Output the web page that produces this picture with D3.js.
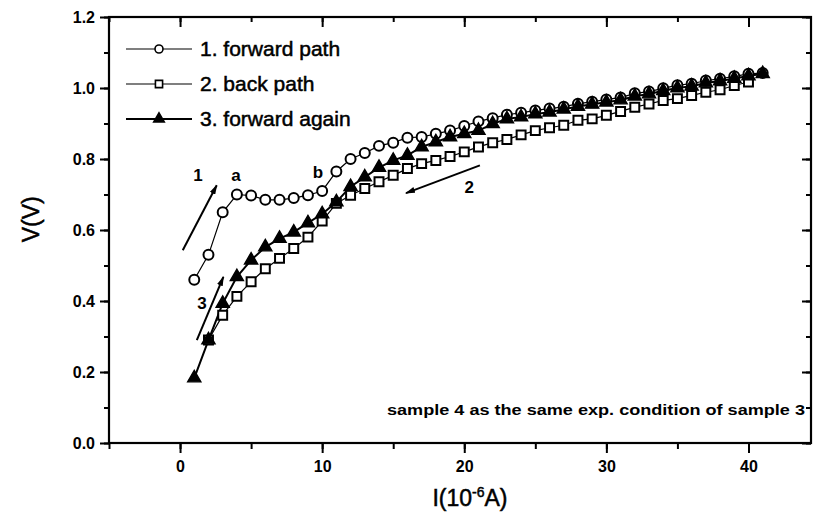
<!DOCTYPE html>
<html>
<head>
<meta charset="utf-8">
<script src="https://cdnjs.cloudflare.com/ajax/libs/d3/7.8.5/d3.min.js"></script>
<style>
  body { margin: 0; background: #fff; }
  svg { font-family: Arial, "Liberation Sans", sans-serif; }
  .tick text { font-weight: bold; font-size: 16px; }
</style>
</head>
<body>
<svg id="vis" width="813" height="521"></svg>
<script>
// data: I in 10^-6 A, V in volts
var current1 = d3.range(1, 42);
var forward1 = [0.46, 0.53, 0.65, 0.70, 0.697, 0.685, 0.685, 0.69, 0.698, 0.71,
  0.765, 0.80, 0.817, 0.837, 0.846, 0.86, 0.862, 0.871, 0.88, 0.893,
  0.906, 0.915, 0.925, 0.93, 0.937, 0.942, 0.947, 0.956, 0.961, 0.968,
  0.973, 0.985, 0.99, 0.999, 1.008, 1.012, 1.021, 1.026, 1.033, 1.04, 1.042];

var current2 = d3.range(2, 41);
var back2 = [0.29, 0.36, 0.413, 0.454, 0.491, 0.52, 0.548, 0.58, 0.625,
  0.675, 0.698, 0.717, 0.736, 0.754, 0.773, 0.787, 0.796, 0.807, 0.82,
  0.834, 0.846, 0.855, 0.868, 0.88, 0.888, 0.895, 0.909, 0.913, 0.923,
  0.934, 0.946, 0.955, 0.965, 0.97, 0.979, 0.988, 0.995, 1.007, 1.017];

var current3 = d3.range(1, 42);
var again3 = [0.183, 0.29, 0.393, 0.468, 0.515, 0.552, 0.576, 0.594, 0.62, 0.645,
  0.679, 0.722, 0.749, 0.776, 0.796, 0.81, 0.834, 0.848, 0.862, 0.871,
  0.88, 0.899, 0.913, 0.918, 0.927, 0.932, 0.94, 0.948, 0.954, 0.96,
  0.966, 0.977, 0.983, 0.992, 1.0, 1.005, 1.014, 1.02, 1.027, 1.034, 1.04];

var legendNames = ["1. forward path", "2. back path", "3. forward again"];
var xTicks = [0, 10, 20, 30, 40];
var yTicks = [0.0, 0.2, 0.4, 0.6, 0.8, 1.0, 1.2];

// annotation arrows [x1, y1, x2, y2] in data units, head at the second point
var arrows = [[0.19, 0.543, 2.58, 0.726], [1.18, 0.29, 3.05, 0.468], [21.1, 0.782, 15.9, 0.704]];
var labels = [["1", 1.27, 0.755], ["a", 3.94, 0.755], ["b", 9.7, 0.763], ["3", 1.55, 0.394], ["2", 20.35, 0.72]];

var svg = d3.select("#vis");

var x = d3.scaleLinear().domain([-5, 44.4]).range([109, 811]);
var y = d3.scaleLinear().domain([0, 1.2]).range([443, 17]);

var fmt = d3.format(".1f");

/*
 * AXES
 */
function minorTicks(sc, step) {
  var d = sc.domain(), out = [];
  for (var v = Math.ceil(d[0] / step) * step; v <= d[1] + 1e-9; v += step) out.push(+v.toFixed(3));
  return out;
}

// bottom, outside ticks
svg.append("g")
  .attr("transform", "translate(0," + y(0) + ")")
  .call(d3.axisBottom(x).tickValues(minorTicks(x, 5)).tickSize(6).tickFormat(""))
  .call(g => g.select(".domain").remove());
svg.append("g")
  .attr("transform", "translate(0," + y(0) + ")")
  .call(d3.axisBottom(x).tickValues(xTicks).tickSize(10).tickPadding(8).tickFormat(d3.format("d")))
  .call(g => g.select(".domain").remove());

// left, outside ticks
svg.append("g")
  .attr("transform", "translate(" + x(-5) + ",0)")
  .call(d3.axisLeft(y).tickValues(minorTicks(y, 0.1)).tickSize(5).tickFormat(""))
  .call(g => g.select(".domain").remove());
svg.append("g")
  .attr("transform", "translate(" + x(-5) + ",0)")
  .call(d3.axisLeft(y).tickValues(yTicks).tickSize(9).tickPadding(5).tickFormat(fmt))
  .call(g => g.select(".domain").remove());

// top and right, ticks pointing in
svg.append("g")
  .attr("transform", "translate(0," + y(1.2) + ")")
  .call(d3.axisBottom(x).tickValues(minorTicks(x, 5)).tickSize(5).tickFormat(""))
  .call(g => g.select(".domain").remove());
svg.append("g")
  .attr("transform", "translate(0," + y(1.2) + ")")
  .call(d3.axisBottom(x).tickValues(xTicks).tickSize(10).tickFormat(""))
  .call(g => g.select(".domain").remove());
svg.append("g")
  .attr("transform", "translate(" + x(44.4) + ",0)")
  .call(d3.axisLeft(y).tickValues(minorTicks(y, 0.1)).tickSize(5).tickFormat(""))
  .call(g => g.select(".domain").remove());
svg.append("g")
  .attr("transform", "translate(" + x(44.4) + ",0)")
  .call(d3.axisLeft(y).tickValues(yTicks).tickSize(9).tickFormat(""))
  .call(g => g.select(".domain").remove());

svg.selectAll(".tick line").attr("stroke", "#000").attr("stroke-width", 2);

// frame
svg.append("rect")
  .attr("x", x(-5)).attr("y", y(1.2))
  .attr("width", x(44.4) - x(-5)).attr("height", y(0) - y(1.2))
  .attr("fill", "none").attr("stroke", "#000").attr("stroke-width", 2.2);

// axis titles
svg.append("text")
  .attr("transform", "translate(31," + y(0.63) + ") rotate(-90)")
  .attr("text-anchor", "middle").attr("dy", "0.35em")
  .attr("font-size", 23).attr("stroke", "#000").attr("stroke-width", 0.5)
  .text("V(V)");

var xt = svg.append("text")
  .attr("x", x(20.4)).attr("y", 506)
  .attr("text-anchor", "middle")
  .attr("font-size", 23).attr("stroke", "#000").attr("stroke-width", 0.5);
xt.append("tspan").text("I(10");
xt.append("tspan").attr("dy", -9).attr("font-size", 14).text("-6");
xt.append("tspan").attr("dy", 9).text("A)");

/*
 * SERIES
 */
var line = d3.line().x(d => x(d[0])).y(d => y(d[1]));

var s1 = d3.zip(current1, forward1);
var s2 = d3.zip(current2, back2);
var s3 = d3.zip(current3, again3);

svg.append("path").datum(s1).attr("d", line)
  .attr("fill", "none").attr("stroke", "#000").attr("stroke-width", 1.2);
svg.append("path").datum(s2).attr("d", line)
  .attr("fill", "none").attr("stroke", "#000").attr("stroke-width", 1.2);
svg.append("path").datum(s3).attr("d", line)
  .attr("fill", "none").attr("stroke", "#000").attr("stroke-width", 2);

var circle = d3.symbol().type(d3.symbolCircle).size(78);
var square = d3.symbol().type(d3.symbolSquare).size(80);
var triangle = d3.symbol().type(d3.symbolTriangle).size(75);

svg.append("g").selectAll("path")
  .data(s1).enter().append("path")
    .attr("transform", d => "translate(" + x(d[0]) + "," + y(d[1]) + ")")
    .attr("d", circle)
    .attr("fill", "#fff").attr("stroke", "#000").attr("stroke-width", 2);

svg.append("g").selectAll("path")
  .data(s2).enter().append("path")
    .attr("transform", d => "translate(" + x(d[0]) + "," + y(d[1]) + ")")
    .attr("d", square)
    .attr("fill", "#fff").attr("stroke", "#000").attr("stroke-width", 2);

svg.append("g").selectAll("path")
  .data(s3).enter().append("path")
    .attr("transform", d => "translate(" + x(d[0]) + "," + y(d[1]) + ")")
    .attr("d", triangle)
    .attr("fill", "#000").attr("stroke", "#000").attr("stroke-width", 1.4);

/*
 * ANNOTATIONS
 */
svg.append("defs").append("marker")
  .attr("id", "head")
  .attr("viewBox", "0 0 10 6")
  .attr("refX", 9).attr("refY", 3)
  .attr("markerWidth", 10).attr("markerHeight", 6)
  .attr("markerUnits", "userSpaceOnUse")
  .attr("orient", "auto")
  .append("path").attr("d", "M0,0L10,3L0,6Z").attr("fill", "#000");

svg.append("g").selectAll("line")
  .data(arrows).enter().append("line")
    .attr("x1", d => x(d[0])).attr("y1", d => y(d[1]))
    .attr("x2", d => x(d[2])).attr("y2", d => y(d[3]))
    .attr("stroke", "#000").attr("stroke-width", 2)
    .attr("marker-end", "url(#head)");

svg.append("g").selectAll("text")
  .data(labels).enter().append("text")
    .attr("x", d => x(d[1])).attr("y", d => y(d[2]))
    .attr("text-anchor", "middle").attr("dy", "0.35em")
    .attr("font-size", 17).attr("font-weight", "bold")
    .text(d => d[0]);

svg.append("text")
  .attr("x", 805).attr("y", 415)
  .attr("text-anchor", "end")
  .attr("font-size", 14).attr("font-weight", "bold")
  .attr("textLength", 418).attr("lengthAdjust", "spacingAndGlyphs")
  .text("sample 4 as the same exp. condition of sample 3");

/*
 * LEGENDA
 */
var symbols = [circle, square, triangle];
var fills = ["#fff", "#fff", "#000"];
var widths = [1.2, 1.2, 2];

var leg = svg.append("g").selectAll("g")
  .data(legendNames).enter().append("g")
    .attr("transform", (d, i) => "translate(126," + (49 + i * 35) + ")");

leg.append("line")
  .attr("x1", 0).attr("x2", 66)
  .attr("stroke", "#000").attr("stroke-width", (d, i) => widths[i]);
leg.append("path")
  .attr("transform", "translate(33,0) scale(0.8)")
  .attr("d", (d, i) => symbols[i]())
  .attr("fill", (d, i) => fills[i]).attr("stroke", "#000").attr("stroke-width", 2);
leg.append("text")
  .attr("x", 74).attr("dy", "0.35em")
  .attr("font-size", 21).attr("stroke", "#000").attr("stroke-width", 0.5)
  .text(d => d);
</script>
</body>
</html>
